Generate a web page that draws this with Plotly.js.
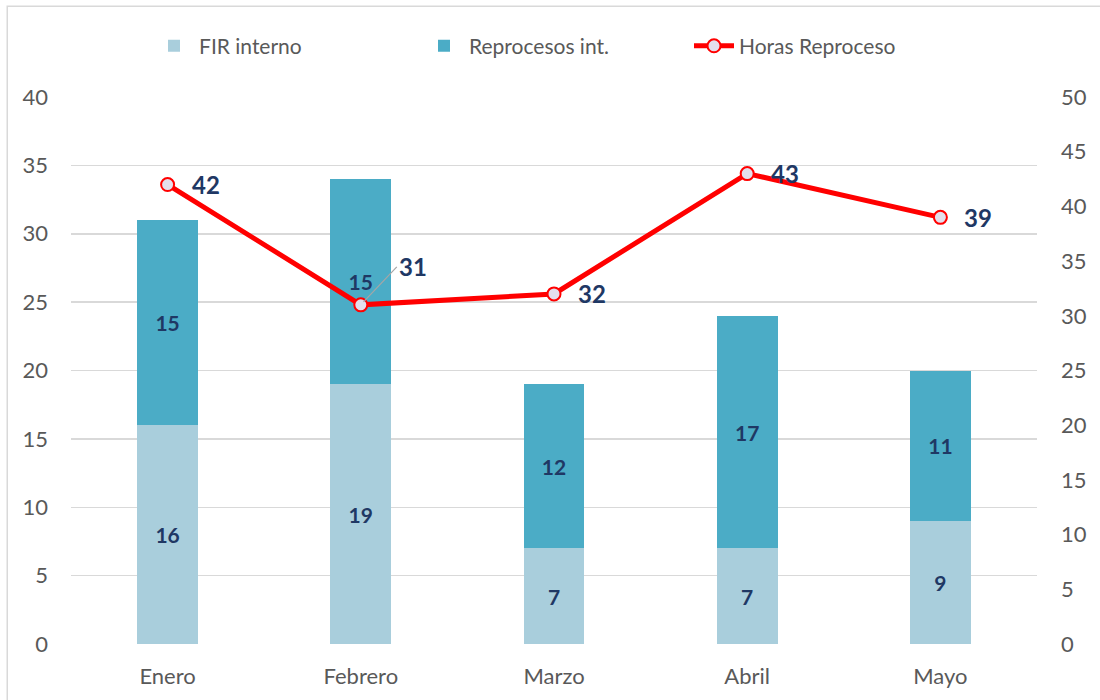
<!DOCTYPE html>
<html><head><meta charset="utf-8">
<script src="https://cdn.plot.ly/plotly-3.0.1.min.js"></script>
<style>html,body{margin:0;padding:0;background:#fff}#chart{width:1100px;height:700px}</style>
</head><body><div id="chart"></div>
<script>
const categories = ["Enero","Febrero","Marzo","Abril","Mayo"];
const firInterno = [16,19,7,7,9];
const reprocesos = [15,15,12,17,11];
const horasReproceso = [42,31,32,43,39];

const FONT = "Lato, 'Open Sans', sans-serif";
const labelColor = "#1F3864";

const traces = [
  {type:"bar", name:"FIR interno", x:categories, y:firInterno,
   marker:{color:"#A9CEDC"}, text:firInterno.map(String), textposition:"inside",
   insidetextanchor:"middle", textangle:0,
   textfont:{family:FONT,size:21,color:labelColor,weight:"bold"}, hoverinfo:"skip"},
  {type:"bar", name:"Reprocesos int.", x:categories, y:reprocesos,
   marker:{color:"#4BACC6"}, text:reprocesos.map(String), textposition:"inside",
   insidetextanchor:"middle", textangle:0,
   textfont:{family:FONT,size:21,color:labelColor,weight:"bold"}, hoverinfo:"skip"},
  {type:"scatter", mode:"lines+markers", name:"Horas Reproceso", x:categories, y:horasReproceso,
   yaxis:"y2", line:{color:"#FF0000",width:5},
   marker:{size:13,color:"#E4DFEC",line:{color:"#FF0000",width:2}}, hoverinfo:"skip"}
];

const annotations = horasReproceso.map((v,i)=>{
  const base = {x:categories[i], y:v, xref:"x", yref:"y2", text:"<b>"+v+"</b>",
    font:{family:FONT,size:24,color:labelColor}, xanchor:"left", yanchor:"middle"};
  if (i===1) {
    return Object.assign(base,{showarrow:true, arrowhead:0, arrowwidth:1.2, arrowcolor:"#A6A6A6",
      ax:36, ay:-38, xanchor:"left", standoff:4});
  }
  return Object.assign(base,{showarrow:false, xshift:22});
});

const layout = {
  width:1100, height:700,
  margin:{l:71, r:63, t:97, b:56},
  paper_bgcolor:"#fff", plot_bgcolor:"#fff",
  barmode:"stack", bargap:0.685,
  font:{family:FONT, color:"#595959", size:21},
  showlegend:true,
  legend:{orientation:"h", x:0.5, xanchor:"center", y:1.093, yanchor:"middle",
    font:{family:FONT,size:21,color:"#595959"}, traceorder:"normal", itemwidth:40,
    entrywidth:215},
  xaxis:{type:"category", showgrid:false, zeroline:false, showline:false, ticks:"",
    ticklabelstandoff:17, tickfont:{family:FONT,size:22,color:"#595959"}},
  yaxis:{range:[0,40], dtick:5, showgrid:true, gridcolor:"#D9D9D9", gridwidth:1.5,
    zeroline:false, showline:false, ticks:"", ticklabelstandoff:22,
    tickfont:{family:FONT,size:22,color:"#595959"}},
  yaxis2:{range:[0,50], dtick:5, overlaying:"y", side:"right", showgrid:false,
    zeroline:false, showline:false, ticks:"", ticklabelstandoff:23,
    tickfont:{family:FONT,size:22,color:"#595959"}},
  annotations:annotations,
  shapes:[{type:"rect", xref:"paper", yref:"paper", layer:"below",
    x0:-0.066, x1:1.1, y0:-0.2, y1:1.166, line:{color:"#D9D9D9",width:1.5}}]
};
Plotly.newPlot("chart", traces, layout, {displayModeBar:false, staticPlot:true});
</script></body></html>
